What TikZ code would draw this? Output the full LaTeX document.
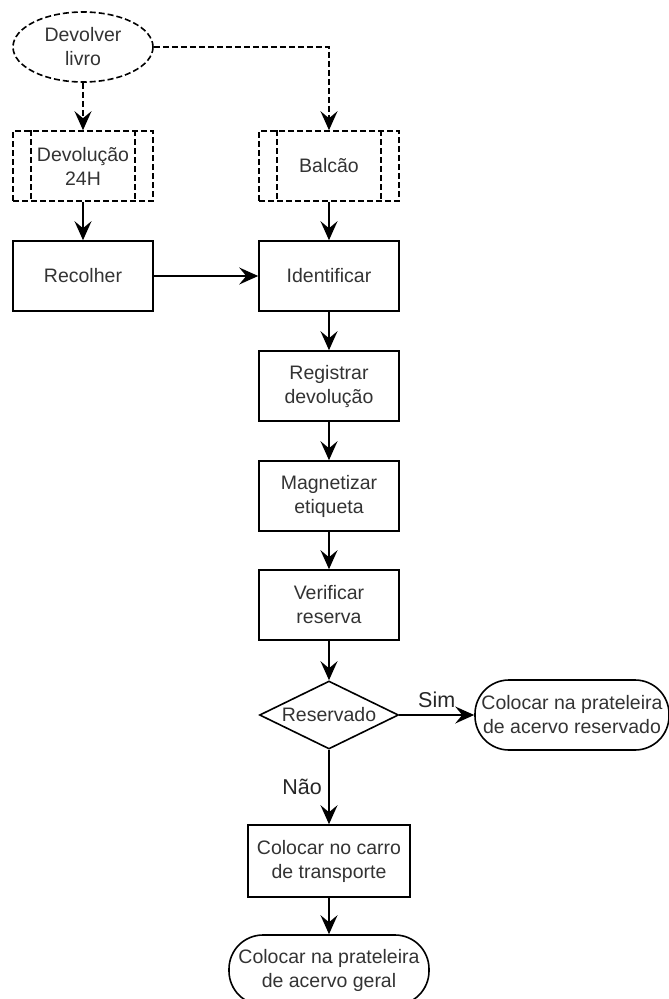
\documentclass[tikz,border=0pt]{standalone}
\usepackage{fontspec}
\setmainfont{Liberation Sans}
\usetikzlibrary{shapes.geometric,arrows.meta,positioning}

\tikzset{
  base/.style={draw=black, line width=1.6pt, align=center, text=black!80,
    font=\fontsize{19.5}{24}\selectfont, inner sep=1pt},
  box/.style={base, rectangle, minimum width=140pt, minimum height=70pt},
  subproc/.style={box, dash pattern=on 6pt off 3pt},
  startnode/.style={base, ellipse, dash pattern=on 6pt off 3pt,
    minimum width=140pt, minimum height=70pt},
  decision/.style={base, diamond, aspect=2, inner sep=0pt,
    minimum width=139pt, minimum height=68pt},
  terminal/.style={base, rectangle, rounded corners=34pt, minimum height=70pt},
  flow/.style={line width=1.6pt, -{Stealth[length=19pt,width=17pt,inset=7pt]}},
  answer/.style={font=\fontsize{21.5}{25}\selectfont, text=black!85}
}

\begin{document}
\begin{tikzpicture}[x=1pt, y=-1pt]
  \useasboundingbox (0,0) rectangle (669,999);

  % Entry points
  \node[startnode] (devolver) at (83,47) {Devolver\\livro};
  \node[subproc] (urna) at (83,166) {Devolução\\24H};
  \node[subproc] (balcao) at (329,166) {Balcão};

  % double side bars of the predefined steps
  \foreach \n in {urna, balcao} {
    \draw[line width=1.6pt, dash pattern=on 6pt off 3pt]
      ([xshift=19pt]\n.north west) -- ([xshift=19pt]\n.south west);
    \draw[line width=1.6pt, dash pattern=on 6pt off 3pt]
      ([xshift=-19pt]\n.north east) -- ([xshift=-19pt]\n.south east);
  }

  % Main column
  \node[box] (recolher) at (83,276) {Recolher};
  \node[box] (identificar) at (329,276) {Identificar};
  \node[box] (registrar) at (329,386) {Registrar\\devolução};
  \node[box] (magnetizar) at (329,496) {Magnetizar\\etiqueta};
  \node[box] (verificar) at (329,605) {Verificar\\reserva};

  % Decision and outcomes
  \node[decision] (reservado) at (329,715) {Reservado};
  \node[terminal, minimum width=194pt] (prateleira-res) at (572,715)
    {Colocar na prateleira\\de acervo reservado};
  \node[box, minimum width=162pt, minimum height=72pt] (carro) at (329,861)
    {Colocar no carro\\de transporte};
  \node[terminal, minimum width=200pt] (prateleira-ger) at (329,970)
    {Colocar na prateleira\\de acervo geral};

  % Arrows
  \draw[flow, dash pattern=on 6pt off 3pt] (devolver) -- (urna);
  \draw[flow, dash pattern=on 6pt off 3pt] (devolver.east) -| (balcao.north);
  \draw[flow] (urna) -- (recolher);
  \draw[flow] (balcao) -- (identificar);
  \draw[flow] (recolher) -- (identificar);
  \draw[flow] (identificar) -- (registrar);
  \draw[flow] (registrar) -- (magnetizar);
  \draw[flow] (magnetizar) -- (verificar);
  \draw[flow] (verificar) -- (reservado);
  \draw[flow] (reservado) -- node[answer, midway, above=3pt] (sim) {Sim} (prateleira-res);
  \draw[flow] (reservado) -- node[answer, midway, left=3pt] (nao) {Não} (carro);
  \draw[flow] (carro) -- (prateleira-ger);

\end{tikzpicture}
\end{document}
